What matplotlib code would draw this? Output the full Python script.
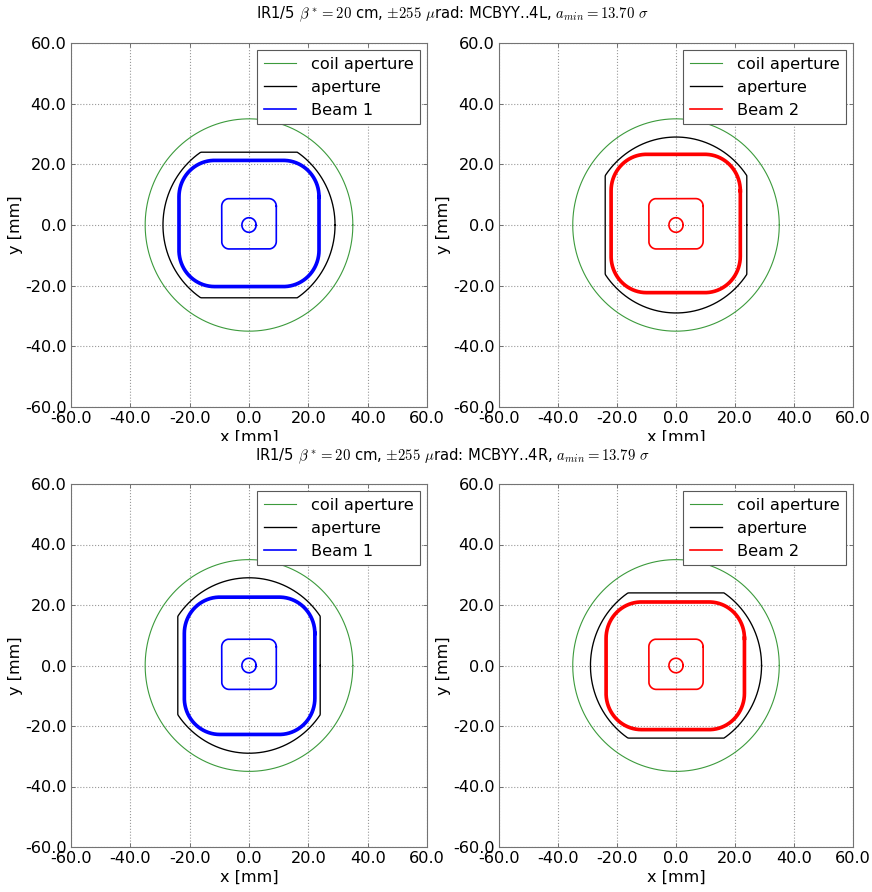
import numpy as np
import matplotlib
matplotlib.use("Agg")
import matplotlib.pyplot as plt
from matplotlib.transforms import Bbox, TransformedBbox

plt.rcParams['font.family'] = ['DejaVu Sans']
plt.rcParams['mathtext.fontset'] = 'cm'
plt.rcParams['font.size'] = 14.5

# --- chart values (mm) ---
titles = [r'IR1/5 $\beta^*=20$ cm, $\pm255$ $\mu$rad: MCBYY..4L, $a_{min}=13.70$ $\sigma$',
          r'IR1/5 $\beta^*=20$ cm, $\pm255$ $\mu$rad: MCBYY..4R, $a_{min}=13.79$ $\sigma$']
beam_names = ['Beam 1', 'Beam 2', 'Beam 1', 'Beam 2']
beam_colors = ['b', 'r', 'b', 'r']
coil_radius = 35.0
aper_radius = 29.0
aper_flat = 24.0
aper_orient = ['h', 'v', 'v', 'h']      # flat top/bottom or flat sides
# beam envelope bounds: x0, x1, y0, y1
env_bounds = [[-23.6, 23.6, -20.3, 21.3],
              [-22.0, 21.8, -22.3, 23.3],
              [-21.8, 22.2, -22.8, 22.6],
              [-23.7, 23.2, -21.2, 21.0]]
env_corner = 12.0
core_bounds = [-9.2, 9.2, -7.9, 8.7]
core_corner = 2.5
orbit_radius = 2.4
ticks = [-60, -40, -20, 0, 20, 40, 60]


def rounded_box(x0, x1, y0, y1, r, n=40):
    cx = [x1 - r, x0 + r, x0 + r, x1 - r]
    cy = [y1 - r, y1 - r, y0 + r, y0 + r]
    xs, ys = [], []
    for k in range(4):
        a = np.linspace(k * np.pi / 2, (k + 1) * np.pi / 2, n)
        xs.append(cx[k] + r * np.cos(a))
        ys.append(cy[k] + r * np.sin(a))
    xs = np.concatenate(xs + [xs[0][:1]])
    ys = np.concatenate(ys + [ys[0][:1]])
    return xs, ys


def aperture(R, h, orient, n=400):
    a = np.linspace(0, 2 * np.pi, n)
    x, y = R * np.cos(a), R * np.sin(a)
    if orient == 'h':
        y = np.clip(y, -h, h)
    else:
        x = np.clip(x, -h, h)
    return x, y


W, H = 872, 892
fig = plt.figure(figsize=(W / 80, H / 80), dpi=80)

# axes boxes in pixels: left, right, top, bottom
boxes = [(71, 427, 43, 407), (499, 853, 43, 407),
         (71, 427, 484, 847), (499, 853, 484, 847)]

t = np.linspace(0, 2 * np.pi, 300)
for i, (l, r, tp, b) in enumerate(boxes):
    ax = fig.add_axes([l / W, 1 - b / H, (r - l) / W, (b - tp) / H])
    ax.plot(coil_radius * np.cos(t), coil_radius * np.sin(t), color='#3c9a3c',
            lw=1, label='coil aperture')
    ax.plot(*aperture(aper_radius, aper_flat, aper_orient[i]), color='k', lw=1.2,
            label='aperture')
    c = beam_colors[i]
    ax.plot(*rounded_box(*env_bounds[i], env_corner), color=c, lw=3.3)
    ax.plot(*rounded_box(*core_bounds, core_corner), color=c, lw=1.5, label=beam_names[i])
    ax.plot(orbit_radius * np.cos(t), orbit_radius * np.sin(t), color=c, lw=1.5)

    ax.set_xlim(-60, 60)
    ax.set_ylim(-60, 60)
    ax.set_xticks(ticks)
    ax.set_yticks(ticks)
    ax.set_xticklabels(['%.1f' % v for v in ticks])
    ax.set_yticklabels(['%.1f' % v for v in ticks])
    ax.grid(True, ls=':', color='0.6', lw=1)
    ax.tick_params(direction='in', length=4, color='0.4', top=True, right=True, pad=4)
    for s in ax.spines.values():
        s.set_color('0.45')
        s.set_linewidth(1.0)
    ax.set_xlabel('x [mm]', labelpad=3)
    ax.set_ylabel('y [mm]', labelpad=2)
    leg = ax.legend(loc='upper right', fancybox=False, framealpha=1,
                    handlelength=2.0, borderpad=0.4, labelspacing=0.5,
                    handletextpad=0.9, borderaxespad=0.45)
    leg.get_frame().set_edgecolor('0.35')
    leg.get_frame().set_linewidth(1.0)
    if i < 2:
        lab = ax.xaxis.label
        lab.set_clip_box(TransformedBbox(Bbox([[0, 1 - 441 / H], [1, 1]]), fig.transFigure))
        lab.set_clip_on(True)

fig.text(452 / W, 1 - 14 / H, titles[0], ha='center', va='center', fontsize=13.3)
fig.text(452 / W, 1 - 456 / H, titles[1], ha='center', va='center', fontsize=13.3)

fig.savefig('out.png', dpi=80)
